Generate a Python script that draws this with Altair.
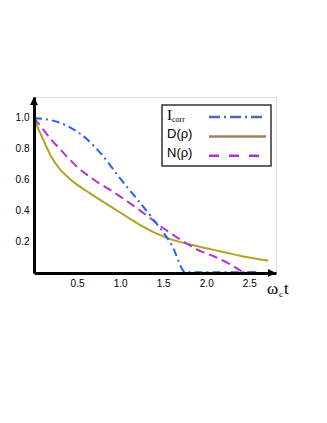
import altair as alt
import pandas as pd

# ---- data ----
icorr_x = [0.0, 0.2, 0.4, 0.6, 0.8, 1.0, 1.2, 1.4, 1.6, 1.76, 2.58]
icorr_y = [1.0, 0.985, 0.945, 0.87, 0.755, 0.61, 0.475, 0.335, 0.18, 0.005, 0.005]

d_x = [0.0, 0.05, 0.1, 0.2, 0.3, 0.4, 0.5, 0.65, 0.8, 1.0, 1.2, 1.4, 1.6, 1.8, 2.0, 2.2, 2.4, 2.6, 2.72]
d_y = [1.0, 0.93, 0.87, 0.75, 0.67, 0.615, 0.57, 0.514, 0.46, 0.39, 0.32, 0.26, 0.215, 0.185, 0.16, 0.135, 0.11, 0.09, 0.08]

n_x = [0.0, 0.1, 0.2, 0.3, 0.5, 0.7, 0.9, 1.1, 1.3, 1.5, 1.7, 1.9, 2.1, 2.3, 2.45, 2.58]
n_y = [1.0, 0.93, 0.86, 0.80, 0.685, 0.60, 0.53, 0.455, 0.375, 0.29, 0.215, 0.15, 0.105, 0.05, 0.005, 0.005]

x_ticks = [0.5, 1.0, 1.5, 2.0, 2.5]
y_ticks = [0.2, 0.4, 0.6, 0.8, 1.0]
x_max = 2.81
y_max = 1.135

legend_labels = ["D(\u03c1)", "N(\u03c1)"]

def frame(xs, ys):
    return pd.DataFrame({"x": xs, "y": ys})

xscale = alt.Scale(domain=[0, x_max], nice=False, zero=False)
yscale = alt.Scale(domain=[0, y_max], nice=False, zero=False)

ax_common = dict(title=None, grid=False, ticks=False, domainWidth=3, domainColor="black",
                 labelFontSize=10, labelFont="Liberation Sans", labelColor="black",
                 labelPadding=5, format=".1f", zindex=1)

X = alt.X("x:Q", scale=xscale, axis=alt.Axis(values=x_ticks, **ax_common))
Y = alt.Y("y:Q", scale=yscale, axis=alt.Axis(values=y_ticks, **ax_common))

icorr = alt.Chart(frame(icorr_x, icorr_y)).mark_line(
    color="#2160ff", strokeWidth=2, strokeDash=[8, 4, 2, 4], interpolate="monotone").encode(x=X, y=Y)
dcurve = alt.Chart(frame(d_x, d_y)).mark_line(
    color="#b3a323", strokeWidth=2, interpolate="monotone").encode(x=X, y=Y)
ncurve = alt.Chart(frame(n_x, n_y)).mark_line(
    color="#b532d2", strokeWidth=2, strokeDash=[9, 5], interpolate="monotone").encode(x=X, y=Y)

arrow_up = alt.Chart(frame([0], [y_max])).mark_point(
    shape="M0,0L-1,2L1,2Z", filled=True, color="black", opacity=1, size=64).encode(x=X, y=Y)
arrow_right = alt.Chart(frame([x_max], [0])).mark_point(
    shape="M0,0L-2,-1L-2,1Z", filled=True, color="black", opacity=1, size=64).encode(x=X, y=Y)

one = pd.DataFrame({"a": [0]})

# legend (custom, labels left, samples right)
leg_box = alt.Chart(one).mark_rect(fill="white", stroke="#333333", strokeWidth=1.5).encode(
    x=alt.value(128), x2=alt.value(237), y=alt.value(8), y2=alt.value(69))
leg_i = alt.Chart(one).mark_text(text="I", font="Liberation Serif", fontSize=15, align="left",
                                 baseline="middle", color="black").encode(
    x=alt.value(133), y=alt.value(18))
leg_corr = alt.Chart(one).mark_text(text="corr", font="Liberation Serif", fontSize=8, align="left",
                                    baseline="middle", color="black").encode(
    x=alt.value(138), y=alt.value(23))
leg_d = alt.Chart(one).mark_text(text=legend_labels[0], font="Liberation Sans", fontSize=13,
                                 align="left", baseline="middle", color="black").encode(
    x=alt.value(133), y=alt.value(37))
leg_n = alt.Chart(one).mark_text(text=legend_labels[1], font="Liberation Sans", fontSize=13,
                                 align="left", baseline="middle", color="black").encode(
    x=alt.value(133), y=alt.value(56))
leg_l1 = alt.Chart(one).mark_rule(color="#4a6ab0", strokeWidth=2.5, strokeDash=[11, 4, 2, 4]).encode(
    x=alt.value(175), x2=alt.value(232), y=alt.value(20))
leg_l2 = alt.Chart(one).mark_rule(color="#a08262", strokeWidth=2.5).encode(
    x=alt.value(175), x2=alt.value(232), y=alt.value(39.5))
leg_l3 = alt.Chart(one).mark_rule(color="#a532d2", strokeWidth=2.5, strokeDash=[10, 10]).encode(
    x=alt.value(175), x2=alt.value(232), y=alt.value(58.7))

# axis title  ω_c t
t_omega = alt.Chart(one).mark_text(text="\u03c9", font="Liberation Serif", fontSize=17,
                                   align="left", baseline="alphabetic", color="black").encode(
    x=alt.value(233), y=alt.value(197))
t_c = alt.Chart(one).mark_text(text="c", font="Liberation Serif", fontSize=9,
                               align="left", baseline="alphabetic", color="black").encode(
    x=alt.value(245), y=alt.value(200))
t_t = alt.Chart(one).mark_text(text="t", font="Liberation Serif", fontSize=17,
                               align="left", baseline="alphabetic", color="black").encode(
    x=alt.value(250), y=alt.value(197))

chart = alt.layer(
    dcurve, ncurve, icorr, arrow_up, arrow_right,
    leg_box, leg_l1, leg_l2, leg_l3, leg_i, leg_corr, leg_d, leg_n,
    t_omega, t_c, t_t,
).properties(
    width=242, height=176,
    autosize=alt.AutoSizeParams(type="none"),
    padding={"left": 26, "top": 89, "right": 40, "bottom": 60},
).configure_view(stroke=None).configure(background="white")

chart.save("out.html", embed_options={"renderer": "svg", "actions": False})
